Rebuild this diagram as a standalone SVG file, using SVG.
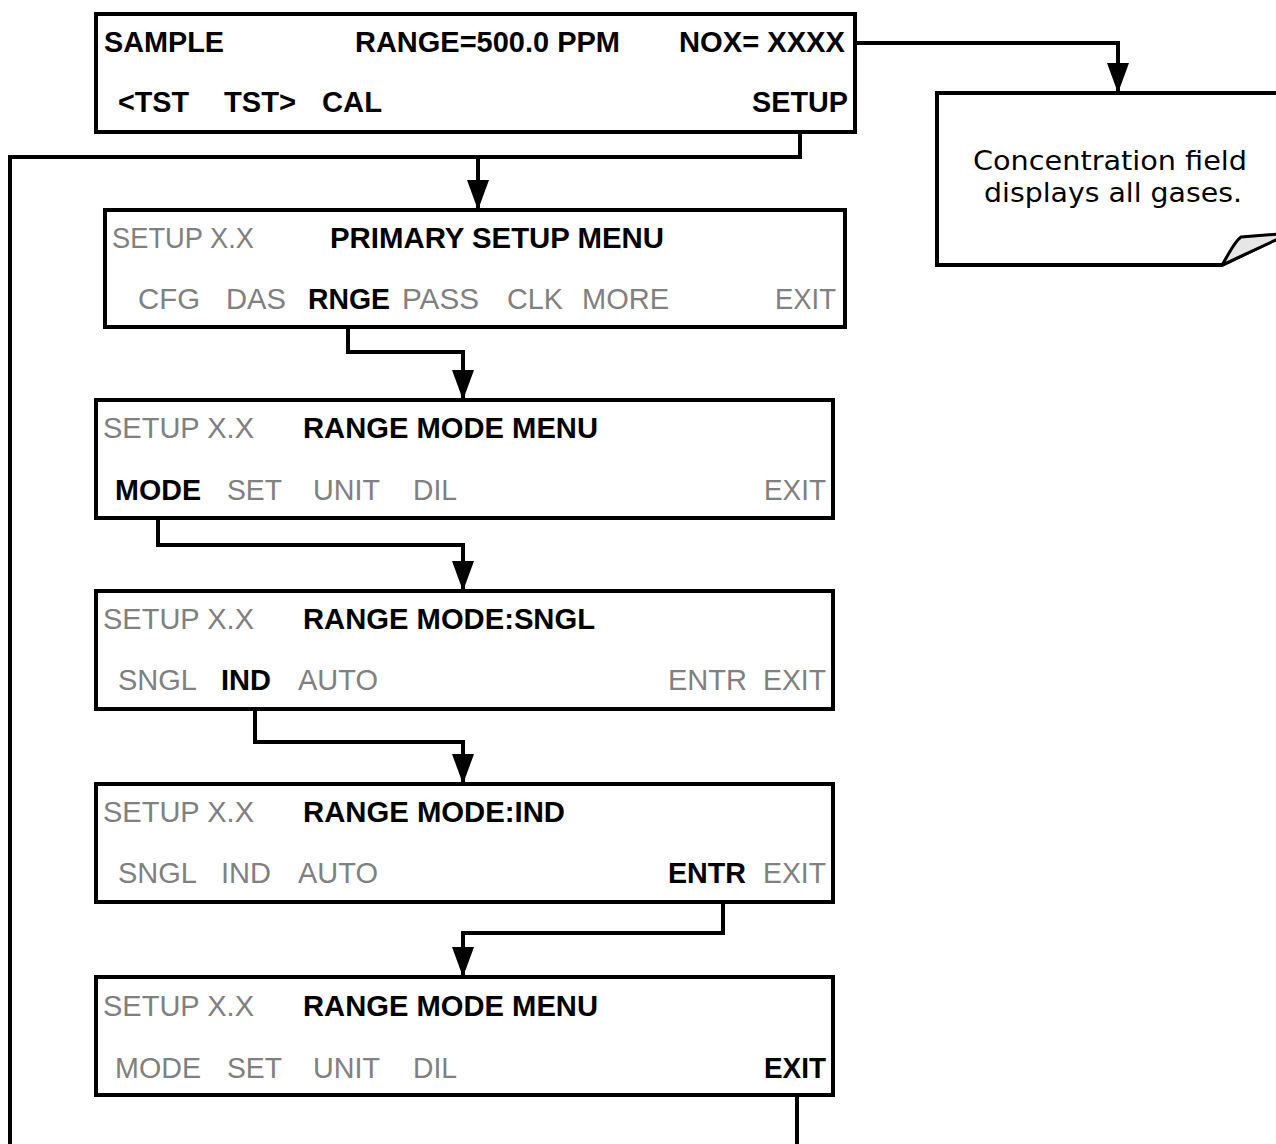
<svg xmlns="http://www.w3.org/2000/svg" width="1276" height="1144" viewBox="0 0 1276 1144">
<style>
.box{fill:#fff;stroke:#000;stroke-width:4}
.b{font-family:"Liberation Sans",Arial,sans-serif;font-weight:bold;font-size:29px;fill:#000}
.g{font-family:"Liberation Sans",Arial,sans-serif;font-size:29px;fill:#808080}
.w{fill:none;stroke:#000;stroke-width:4}
.note{font-family:"DejaVu Sans",Verdana,sans-serif;font-size:26px;fill:#000}
</style>
<defs>
<marker id="ah" markerUnits="userSpaceOnUse" markerWidth="30" markerHeight="22" refX="30" refY="11" orient="auto" viewBox="0 0 30 22">
<path d="M0,0 L30,11 L0,22 Z" fill="#000"/>
</marker>
</defs>
<g id="connectors">
<path class="w" d="M855,43 H1118 V93" marker-end="url(#ah)"/>
<path class="w" d="M800,120 V157 H10 V1144"/>
<path class="w" d="M478,157 V210" marker-end="url(#ah)"/>
<path class="w" d="M348,318 V352 H463 V400" marker-end="url(#ah)"/>
<path class="w" d="M158,510 V545 H463 V591" marker-end="url(#ah)"/>
<path class="w" d="M255,700 V742 H463 V784" marker-end="url(#ah)"/>
<path class="w" d="M723,893 V933 H463 V977" marker-end="url(#ah)"/>
<path class="w" d="M797,1087 V1144"/>
</g>
<g id="n_sample">
<rect class="box" x="96" y="14" width="759" height="118"/>
<text class="b" x="104" y="52" textLength="120" lengthAdjust="spacingAndGlyphs">SAMPLE</text>
<text class="b" x="355" y="52" textLength="265" lengthAdjust="spacingAndGlyphs">RANGE=500.0 PPM</text>
<text class="b" x="679" y="52" textLength="166" lengthAdjust="spacingAndGlyphs">NOX= XXXX</text>
<text class="b" x="118" y="112" textLength="71" lengthAdjust="spacingAndGlyphs">&lt;TST</text>
<text class="b" x="224" y="112" textLength="72" lengthAdjust="spacingAndGlyphs">TST&gt;</text>
<text class="b" x="322" y="112" textLength="60" lengthAdjust="spacingAndGlyphs">CAL</text>
<text class="b" x="752" y="112" textLength="96" lengthAdjust="spacingAndGlyphs">SETUP</text>
</g>
<g id="n_note">
<path class="box" d="M937,93 H1280 V237 L1222,265 H937 Z"/>
<path d="M1222,265 C1230,252 1234,242 1241,237 L1278,234 L1278,239 Z" fill="#e6e6e6" stroke="#000" stroke-width="3" stroke-linejoin="round"/>
<text class="note" x="973" y="170" textLength="274" lengthAdjust="spacingAndGlyphs">Concentration field</text>
<text class="note" x="984" y="202" textLength="258" lengthAdjust="spacingAndGlyphs">displays all gases.</text>
</g>
<g id="n_primary">
<rect class="box" x="105" y="210" width="740" height="117"/>
<text class="g" x="112" y="248" textLength="142" lengthAdjust="spacingAndGlyphs">SETUP X.X</text>
<text class="b" x="330" y="248" textLength="334" lengthAdjust="spacingAndGlyphs">PRIMARY SETUP MENU</text>
<text class="g" x="138" y="309" textLength="62" lengthAdjust="spacingAndGlyphs">CFG</text>
<text class="g" x="226" y="309" textLength="60" lengthAdjust="spacingAndGlyphs">DAS</text>
<text class="b" x="308" y="309" textLength="82" lengthAdjust="spacingAndGlyphs">RNGE</text>
<text class="g" x="402" y="309" textLength="77" lengthAdjust="spacingAndGlyphs">PASS</text>
<text class="g" x="507" y="309" textLength="56" lengthAdjust="spacingAndGlyphs">CLK</text>
<text class="g" x="582" y="309" textLength="87" lengthAdjust="spacingAndGlyphs">MORE</text>
<text class="g" x="775" y="309" textLength="61" lengthAdjust="spacingAndGlyphs">EXIT</text>
</g>
<g id="n_range1">
<rect class="box" x="96" y="400" width="737" height="118"/>
<text class="g" x="103" y="438" textLength="151" lengthAdjust="spacingAndGlyphs">SETUP X.X</text>
<text class="b" x="303" y="438" textLength="295" lengthAdjust="spacingAndGlyphs">RANGE MODE MENU</text>
<text class="b" x="115" y="500" textLength="86" lengthAdjust="spacingAndGlyphs">MODE</text>
<text class="g" x="227" y="500" textLength="55" lengthAdjust="spacingAndGlyphs">SET</text>
<text class="g" x="313" y="500" textLength="67" lengthAdjust="spacingAndGlyphs">UNIT</text>
<text class="g" x="413" y="500" textLength="44" lengthAdjust="spacingAndGlyphs">DIL</text>
<text class="g" x="764" y="500" textLength="62" lengthAdjust="spacingAndGlyphs">EXIT</text>
</g>
<g id="n_sngl">
<rect class="box" x="96" y="591" width="737" height="118"/>
<text class="g" x="103" y="629" textLength="151" lengthAdjust="spacingAndGlyphs">SETUP X.X</text>
<text class="b" x="303" y="629" textLength="292" lengthAdjust="spacingAndGlyphs">RANGE MODE:SNGL</text>
<text class="g" x="118" y="690" textLength="79" lengthAdjust="spacingAndGlyphs">SNGL</text>
<text class="b" x="221" y="690" textLength="50" lengthAdjust="spacingAndGlyphs">IND</text>
<text class="g" x="298" y="690" textLength="80" lengthAdjust="spacingAndGlyphs">AUTO</text>
<text class="g" x="668" y="690" textLength="79" lengthAdjust="spacingAndGlyphs">ENTR</text>
<text class="g" x="763" y="690" textLength="63" lengthAdjust="spacingAndGlyphs">EXIT</text>
</g>
<g id="n_ind">
<rect class="box" x="96" y="784" width="737" height="118"/>
<text class="g" x="103" y="822" textLength="151" lengthAdjust="spacingAndGlyphs">SETUP X.X</text>
<text class="b" x="303" y="822" textLength="262" lengthAdjust="spacingAndGlyphs">RANGE MODE:IND</text>
<text class="g" x="118" y="883" textLength="79" lengthAdjust="spacingAndGlyphs">SNGL</text>
<text class="g" x="221" y="883" textLength="50" lengthAdjust="spacingAndGlyphs">IND</text>
<text class="g" x="298" y="883" textLength="80" lengthAdjust="spacingAndGlyphs">AUTO</text>
<text class="b" x="668" y="883" textLength="78" lengthAdjust="spacingAndGlyphs">ENTR</text>
<text class="g" x="763" y="883" textLength="63" lengthAdjust="spacingAndGlyphs">EXIT</text>
</g>
<g id="n_range2">
<rect class="box" x="96" y="977" width="737" height="118"/>
<text class="g" x="103" y="1016" textLength="151" lengthAdjust="spacingAndGlyphs">SETUP X.X</text>
<text class="b" x="303" y="1016" textLength="295" lengthAdjust="spacingAndGlyphs">RANGE MODE MENU</text>
<text class="g" x="115" y="1078" textLength="86" lengthAdjust="spacingAndGlyphs">MODE</text>
<text class="g" x="227" y="1078" textLength="55" lengthAdjust="spacingAndGlyphs">SET</text>
<text class="g" x="313" y="1078" textLength="67" lengthAdjust="spacingAndGlyphs">UNIT</text>
<text class="g" x="413" y="1078" textLength="44" lengthAdjust="spacingAndGlyphs">DIL</text>
<text class="b" x="764" y="1078" textLength="62" lengthAdjust="spacingAndGlyphs">EXIT</text>
</g>
</svg>
